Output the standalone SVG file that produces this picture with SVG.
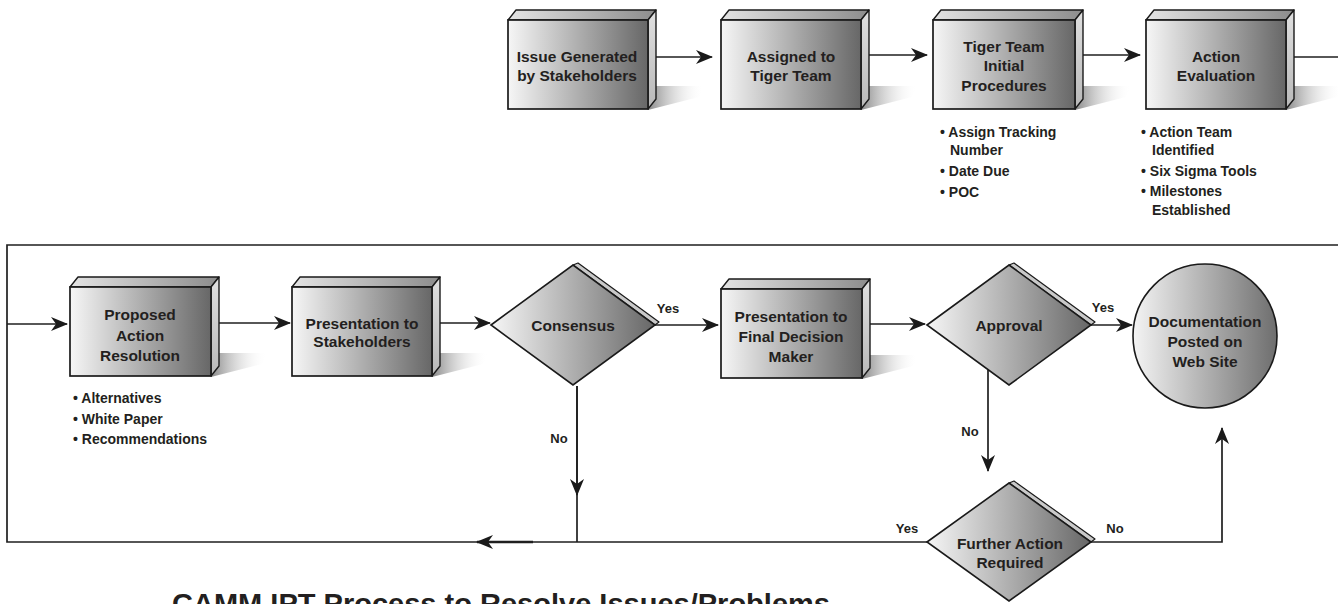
<svg xmlns="http://www.w3.org/2000/svg" width="1338" height="604" viewBox="0 0 1338 604">
<defs>
<linearGradient id="gFront" x1="0" y1="0" x2="1" y2="0"><stop offset="0" stop-color="#f6f6f6"/><stop offset="1" stop-color="#676767"/></linearGradient>
<linearGradient id="gTop" x1="0" y1="0" x2="1" y2="0"><stop offset="0" stop-color="#e4e4e4"/><stop offset="1" stop-color="#8c8c8c"/></linearGradient>
<linearGradient id="gSide" x1="0" y1="0" x2="0" y2="1"><stop offset="0" stop-color="#e0e0e0"/><stop offset="1" stop-color="#b8b8b8"/></linearGradient>
<linearGradient id="gShadow" x1="0" y1="0" x2="1" y2="0"><stop offset="0" stop-color="#888888"/><stop offset="1" stop-color="#ffffff" stop-opacity="0"/></linearGradient>
<linearGradient id="gCircle" x1="0" y1="0" x2="1" y2="0"><stop offset="0" stop-color="#f4f4f4"/><stop offset="1" stop-color="#6e6e6e"/></linearGradient>
<marker id="arr" markerUnits="userSpaceOnUse" markerWidth="18" markerHeight="14" refX="16" refY="7" orient="auto"><path d="M0,0 L17,7 L0,14 L5,7 Z" fill="#1a1a1a"/></marker>
</defs>
<style>
.front{fill:url(#gFront);stroke:#1a1a1a;stroke-width:1.7}
.top{fill:url(#gTop);stroke:#1a1a1a;stroke-width:1.4;stroke-linejoin:round}
.side{fill:url(#gSide);stroke:#1a1a1a;stroke-width:1.4;stroke-linejoin:round}
.shadow{fill:url(#gShadow);stroke:none}
.dia{fill:url(#gFront);stroke:#1a1a1a;stroke-width:1.6;stroke-linejoin:miter}
.bevel{fill:#c9c9c9;stroke:#1a1a1a;stroke-width:1.2;stroke-linejoin:round}
.circ{fill:url(#gCircle);stroke:#1a1a1a;stroke-width:1.6}
.t{font-family:"Liberation Sans",Arial,sans-serif;font-weight:bold;font-size:15.5px;fill:#231f20;text-anchor:middle}
.n{font-family:"Liberation Sans",Arial,sans-serif;font-weight:bold;font-size:14px;fill:#231f20}
.lbl{font-family:"Liberation Sans",Arial,sans-serif;font-weight:bold;font-size:13px;fill:#231f20;text-anchor:middle}
.title{font-family:"Liberation Sans",Arial,sans-serif;font-weight:bold;font-size:28px;fill:#231f20}
.c{fill:none;stroke:#1f1f1f;stroke-width:1.7}
.ca{fill:none;stroke:#1f1f1f;stroke-width:1.7;marker-end:url(#arr)}
</style>

<g id="connectors">
<path class="ca" d="M656,57 H712"/>
<path class="ca" d="M869,55 H927"/>
<path class="ca" d="M1083,55 H1140"/>
<path class="c" d="M1294,57 H1338"/>
<path class="c" d="M927,542 H7 V245 H1338"/>
<path class="ca" d="M533,542 H477" style="stroke-width:2.4"/>
<path class="ca" d="M7,324 H67"/>
<path class="ca" d="M219,323 H290"/>
<path class="ca" d="M440,323 H490"/>
<path class="ca" d="M655,325 H718"/>
<path class="ca" d="M870,324 H925"/>
<path class="ca" d="M1091,325 H1132"/>
<path class="c" d="M577,386 V542"/>
<path class="ca" d="M577,386 V495"/>
<path class="ca" d="M988,370 V471"/>
<path class="ca" d="M1091,542 H1222 V428"/>
<text class="lbl" x="668" y="313">Yes</text>
<text class="lbl" x="1103" y="312">Yes</text>
<text class="lbl" x="907" y="533">Yes</text>
<text class="lbl" x="1115" y="533">No</text>
<text class="lbl" x="559" y="443">No</text>
<text class="lbl" x="970" y="436">No</text>
</g>

<g id="issue">
<polygon class="shadow" points="656,86 704,86 699,97 648,110"/>
<polygon class="top" points="508,20 516,10 656,10 648,20"/>
<polygon class="side" points="648,20 656,10 656,99 648,109"/>
<rect class="front" x="508" y="20" width="140" height="89"/>
<text class="t" x="577" y="62">Issue Generated</text>
<text class="t" x="577" y="81">by Stakeholders</text>
</g>

<g id="assigned">
<polygon class="shadow" points="869,86 917,86 912,97 861,110"/>
<polygon class="top" points="721,20 729,10 869,10 861,20"/>
<polygon class="side" points="861,20 869,10 869,99 861,109"/>
<rect class="front" x="721" y="20" width="140" height="89"/>
<text class="t" x="791" y="62">Assigned to</text>
<text class="t" x="791" y="81">Tiger Team</text>
</g>

<g id="tiger">
<polygon class="shadow" points="1083,86 1131,86 1126,97 1075,110"/>
<polygon class="top" points="933,20 941,10 1083,10 1075,20"/>
<polygon class="side" points="1075,20 1083,10 1083,99 1075,109"/>
<rect class="front" x="933" y="20" width="142" height="89"/>
<text class="t" x="1004" y="52">Tiger Team</text>
<text class="t" x="1004" y="71">Initial</text>
<text class="t" x="1004" y="91">Procedures</text>
<text class="n" x="940" y="137">• Assign Tracking</text>
<text class="n" x="950" y="155">Number</text>
<text class="n" x="940" y="176">• Date Due</text>
<text class="n" x="940" y="197">• POC</text>
</g>

<g id="evaluation">
<polygon class="shadow" points="1294,86 1342,86 1337,97 1286,110"/>
<polygon class="top" points="1146,20 1154,10 1294,10 1286,20"/>
<polygon class="side" points="1286,20 1294,10 1294,99 1286,109"/>
<rect class="front" x="1146" y="20" width="140" height="89"/>
<text class="t" x="1216" y="62">Action</text>
<text class="t" x="1216" y="81">Evaluation</text>
<text class="n" x="1141" y="137">• Action Team</text>
<text class="n" x="1152" y="155">Identified</text>
<text class="n" x="1141" y="176">• Six Sigma Tools</text>
<text class="n" x="1141" y="196">• Milestones</text>
<text class="n" x="1152" y="215">Established</text>
</g>

<g id="proposed">
<polygon class="shadow" points="219,353 267,353 262,364 211,377"/>
<polygon class="top" points="70,287 78,277 219,277 211,287"/>
<polygon class="side" points="211,287 219,277 219,366 211,376"/>
<rect class="front" x="70" y="287" width="141" height="89"/>
<text class="t" x="140" y="320">Proposed</text>
<text class="t" x="140" y="341">Action</text>
<text class="t" x="140" y="361">Resolution</text>
<text class="n" x="73" y="403">• Alternatives</text>
<text class="n" x="73" y="424">• White Paper</text>
<text class="n" x="73" y="444">• Recommendations</text>
</g>

<g id="stakeholders">
<polygon class="shadow" points="440,353 488,353 483,364 432,377"/>
<polygon class="top" points="292,287 300,277 440,277 432,287"/>
<polygon class="side" points="432,287 440,277 440,366 432,376"/>
<rect class="front" x="292" y="287" width="140" height="89"/>
<text class="t" x="362" y="329">Presentation to</text>
<text class="t" x="362" y="347">Stakeholders</text>
</g>

<g id="consensus">
<polygon class="bevel" points="573,265 578,263 659,322 655,325"/>
<polygon class="dia" points="491,325 573,265 655,325 573,385"/>
<text class="t" x="573" y="331">Consensus</text>
</g>

<g id="final">
<polygon class="shadow" points="870,355 918,355 913,366 862,379"/>
<polygon class="top" points="721,289 729,279 870,279 862,289"/>
<polygon class="side" points="862,289 870,279 870,368 862,378"/>
<rect class="front" x="721" y="289" width="141" height="89"/>
<text class="t" x="791" y="322">Presentation to</text>
<text class="t" x="791" y="342">Final Decision</text>
<text class="t" x="791" y="362">Maker</text>
</g>

<g id="approval">
<polygon class="bevel" points="1009,265 1014,263 1095,322 1091,325"/>
<polygon class="dia" points="927,325 1009,265 1091,325 1009,385"/>
<text class="t" x="1009" y="331">Approval</text>
</g>

<g id="documentation">
<circle class="circ" cx="1205" cy="336" r="72"/>
<text class="t" x="1205" y="327">Documentation</text>
<text class="t" x="1205" y="347">Posted on</text>
<text class="t" x="1205" y="367">Web Site</text>
</g>

<g id="further">
<polygon class="bevel" points="1009,483 1014,481 1095,539 1091,542"/>
<polygon class="dia" points="927,542 1009,483 1091,542 1009,601"/>
<text class="t" x="1010" y="549">Further Action</text>
<text class="t" x="1010" y="568">Required</text>
</g>

<text class="title" x="172" y="613" textLength="658" lengthAdjust="spacingAndGlyphs">CAMM IPT Process to Resolve Issues/Problems</text>
</svg>
